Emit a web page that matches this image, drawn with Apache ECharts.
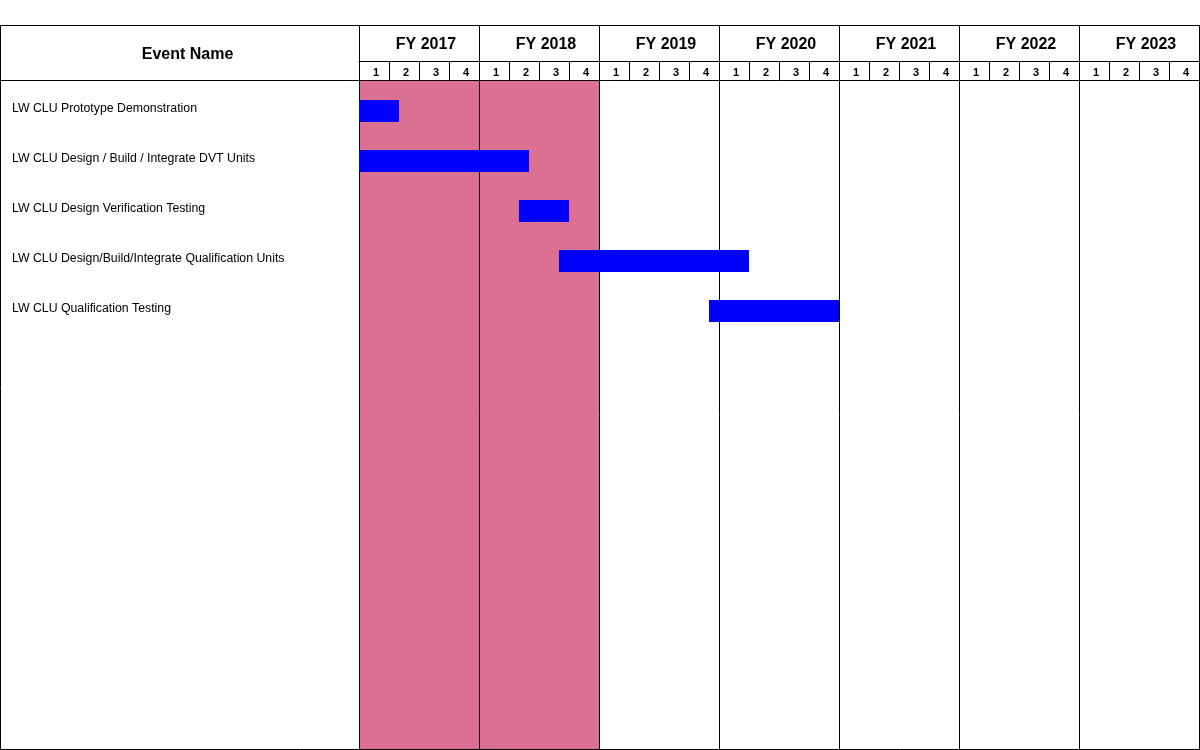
<!DOCTYPE html>
<html>
<head>
<meta charset="utf-8">
<script src="https://cdn.jsdelivr.net/npm/echarts@6/dist/echarts.min.js"></script>
<style>html,body{margin:0;padding:0;background:#fff}#c{width:1200px;height:750px}</style>
</head>
<body>
<div id="c"></div>
<script>
// ---- data ----
const events = [
  'LW CLU Prototype Demonstration',
  'LW CLU Design / Build / Integrate DVT Units',
  'LW CLU Design Verification Testing',
  'LW CLU Design/Build/Integrate Qualification Units',
  'LW CLU Qualification Testing'
];
// months from start of FY 2017
const startMonth = [0, 0, 16, 20, 35];
const endMonth   = [4, 17, 21, 39, 48];
const fiscalYears = ['FY 2017','FY 2018','FY 2019','FY 2020','FY 2021','FY 2022','FY 2023'];
const quarterLabels = ['1','2','3','4'];
const shadedRange = [0, 24]; // months shaded (FY 2017 - FY 2018)

const quarters = [];
fiscalYears.forEach(() => quarterLabels.forEach(q => quarters.push(q)));
const totalMonths = fiscalYears.length * 12;
const durations = endMonth.map((e, i) => e - startMonth[i]);

const FONT = '"Liberation Sans", Arial, sans-serif';
const chart = echarts.init(document.getElementById('c'), null, {renderer: 'canvas'});

chart.setOption({
  animation: false,
  backgroundColor: '#ffffff',
  grid: [
    {left: 359, top: 80, width: 840, height: 669, show: false},
    {left: 359, top: 86, width: 840, height: 250, show: false}
  ],
  xAxis: [
    {gridIndex: 0, type: 'value', min: 0, max: totalMonths, show: false},
    {
      gridIndex: 0, type: 'category', data: fiscalYears, position: 'top', offset: 19, z: 3,
      axisLine: {show: true, lineStyle: {color: '#000', width: 1}},
      axisTick: {show: true, length: 36, lineStyle: {color: '#000', width: 1}},
      axisLabel: {margin: 8, fontFamily: FONT, fontSize: 16, fontWeight: 'bold', color: '#000', padding: [0, 0, 0, 14]},
      splitLine: {show: true, lineStyle: {color: '#000', width: 1}}
    },
    {
      gridIndex: 0, type: 'category', data: quarters, position: 'top', offset: 0, z: 3,
      axisLine: {show: true, lineStyle: {color: '#000', width: 1}},
      axisTick: {show: true, length: 19, interval: 0, lineStyle: {color: '#000', width: 1}},
      axisLabel: {interval: 0, margin: 2, fontFamily: FONT, fontSize: 11, fontWeight: 'bold', color: '#000', padding: [0, 0, 0, 4]},
      splitLine: {show: false}
    },
    {gridIndex: 1, type: 'value', min: 0, max: totalMonths, show: false}
  ],
  yAxis: [
    {gridIndex: 0, type: 'value', min: 0, max: 1, show: false},
    {
      gridIndex: 1, type: 'category', data: events, inverse: true,
      axisLine: {show: false}, axisTick: {show: false}, splitLine: {show: false},
      axisLabel: {align: 'left', verticalAlign: 'bottom', lineHeight: 5, margin: 347, fontFamily: FONT, fontSize: 12.3, color: '#000'}
    }
  ],
  graphic: [
    {type: 'rect', z: 10, shape: {x: 0.5, y: 25.5, width: 1199, height: 724}, style: {fill: 'none', stroke: '#000', lineWidth: 1}},
    {type: 'line', z: 10, shape: {x1: 0, y1: 80.5, x2: 359, y2: 80.5}, style: {stroke: '#000', lineWidth: 1}},
    {type: 'line', z: 10, shape: {x1: 359.5, y1: 25, x2: 359.5, y2: 80}, style: {stroke: '#000', lineWidth: 1}},
    {type: 'text', z: 10, x: 187.5, y: 54.3, style: {text: 'Event Name', font: 'bold 16px ' + FONT, fill: '#000', align: 'center', verticalAlign: 'middle'}}
  ],
  series: [
    {
      type: 'line', xAxisIndex: 0, yAxisIndex: 0, data: [], z: 1, silent: true,
      markArea: {
        silent: true,
        itemStyle: {color: '#db7093', opacity: 1},
        data: [[{xAxis: shadedRange[0]}, {xAxis: shadedRange[1]}]]
      }
    },
    {
      name: 'offset', type: 'bar', xAxisIndex: 3, yAxisIndex: 1, stack: 'g', data: startMonth,
      barWidth: 22, itemStyle: {color: 'transparent'}, silent: true, z: 5
    },
    {
      name: 'duration', type: 'bar', xAxisIndex: 3, yAxisIndex: 1, stack: 'g', data: durations,
      barWidth: 22, itemStyle: {color: '#0000ff'}, z: 5
    }
  ]
});
</script>
</body>
</html>
